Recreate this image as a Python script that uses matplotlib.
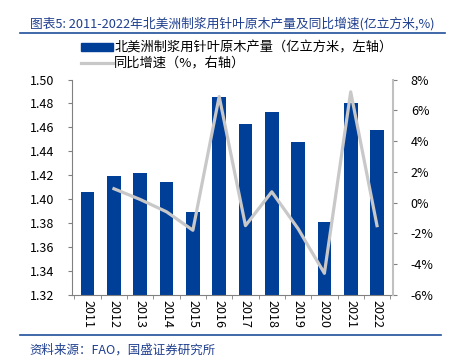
import matplotlib
matplotlib.use("Agg")
import matplotlib.pyplot as plt
from matplotlib.lines import Line2D
from matplotlib.ticker import FuncFormatter, MultipleLocator
import numpy as np

plt.rcParams['font.family'] = ['Noto Sans CJK SC', 'DejaVu Sans']

# 数据
years = ['2011', '2012', '2013', '2014', '2015', '2016', '2017', '2018', '2019', '2020', '2021', '2022']
output = [1.406, 1.419, 1.422, 1.414, 1.389, 1.485, 1.463, 1.473, 1.448, 1.381, 1.480, 1.458]
growth = [None, 0.9, 0.2, -0.6, -1.8, 6.9, -1.5, 0.7, -1.7, -4.6, 7.2, -1.5]

blue = '#003f98'
gray = '#c8c8c8'

fig = plt.figure(figsize=(4.52, 3.6), dpi=100)
ax = fig.add_axes([0.159, 0.181, 0.71, 0.598])
x = np.arange(len(years))
ax.bar(x, [v - 1.32 for v in output], bottom=1.32, width=0.52, color=blue, zorder=2)
ax.set_ylim(1.32, 1.50)
ax.set_xlim(-0.6, len(years) - 0.4)
ax.yaxis.set_major_locator(MultipleLocator(0.02))
ax.yaxis.set_major_formatter(FuncFormatter(lambda v, p: f'{v:.2f}'))
ax.set_xticks(x)
ax.set_xticklabels(years, rotation=-90, fontsize=9)
ax.set_xticks(np.arange(-0.5, len(years), 1), minor=True)
ax.tick_params(axis='x', which='major', length=0, pad=4)
ax.tick_params(axis='x', which='minor', length=3, color='#808080')
ax.tick_params(axis='y', labelsize=9, length=3, color='#808080', pad=10)
for s in ['top', 'right']:
    ax.spines[s].set_visible(False)
ax.spines['left'].set_color('#808080')
ax.spines['bottom'].set_color('#808080')

ax2 = ax.twinx()
gx = [i for i, g in enumerate(growth) if g is not None]
gy = [g for g in growth if g is not None]
ax2.plot(gx, gy, color=gray, lw=2.3, zorder=3)
ax2.set_ylim(-6, 8)
ax2.yaxis.set_major_locator(MultipleLocator(2))
ax2.yaxis.set_major_formatter(FuncFormatter(lambda v, p: f'{v:.0f}%'))
ax2.tick_params(axis='y', labelsize=9, length=3, color='#808080', pad=10)
for s in ['top', 'left', 'bottom']:
    ax2.spines[s].set_visible(False)
ax2.spines['right'].set_color('#c0c0c0')
ax2.spines['right'].set_linewidth(1.5)

# 标题
fig.text(0.066, 0.935, '图表5: 2011-2022年北美洲制浆用针叶原木产量及同比增速(亿立方米,%)',
         fontsize=9.2, color='#1f3f8f', style='italic', va='center', ha='left')
fig.add_artist(Line2D([0.045, 0.985], [0.908, 0.908], color='#1f4e9a', lw=1.2))

# 图例
handles = [plt.Rectangle((0, 0), 1, 1, color=blue),
           Line2D([0], [0], color=gray, lw=2.3)]
labels = ['北美洲制浆用针叶原木产量（亿立方米，左轴）', '同比增速（%，右轴）']
fig.legend(handles, labels, loc='upper left', bbox_to_anchor=(0.168, 0.9),
           frameon=False, fontsize=9.5, handlelength=2.4, handleheight=0.6,
           handletextpad=0.1, labelspacing=0.2, borderaxespad=0)

# 来源
fig.add_artist(Line2D([0.045, 0.975], [0.069, 0.069], color='#1f4e9a', lw=1.2))
fig.text(0.065, 0.028, '资料来源：FAO，国盛证券研究所', fontsize=9,
         color='#1f3f8f', style='italic', va='center', ha='left')

fig.savefig('out.png', dpi=100)
